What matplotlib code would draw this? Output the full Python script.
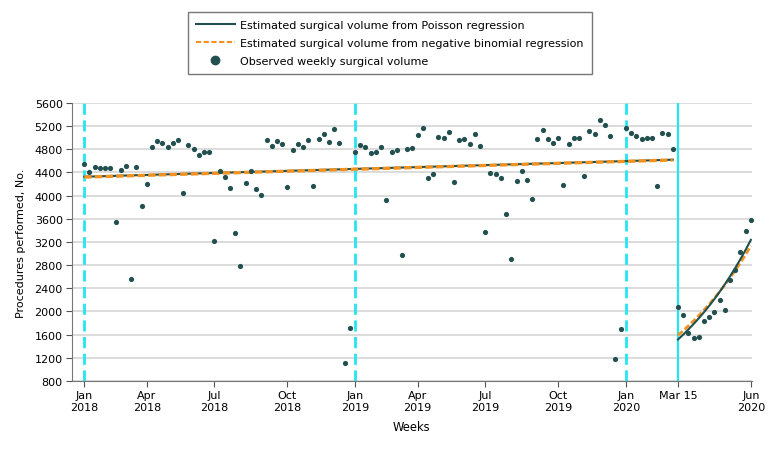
import numpy as np
import matplotlib.pyplot as plt
from matplotlib.lines import Line2D

plt.rcParams['font.family'] = ['DejaVu Sans']

# observed weekly surgical volume, week 0 = first week of Jan 2018
observed = [
    4540, 4401, 4488, 4482, 4482, 4470, 3548, 4441, 4511, 2568,
    4488, 3825, 4205, 4833, 4943, 4908, 4845, 4903, 4966, 4044,
    4868, 4810, 4701, 4747, 4747, 3208, 4424, 4315, 4130, 3346,
    2793, 4222, 4418, 4107, 4015, 4954, 4851, 4949, 4885, 4142,
    4793, 4891, 4845, 4954, 4171, 4972, 5064, 4926, 5145, 4908,
    1110, 1709, 4747, 4874, 4845, 4741, 4758, 4845, 3928, 4747,
    4782, 2983, 4799, 4822, 5047, 5162, 4297, 4372, 5006, 4995,
    5099, 4234, 4954, 4972, 4891, 5064, 4851, 3364, 4390, 4366,
    4309, 3686, 2908, 4251, 4430, 4263, 3946, 4972, 5139, 4972,
    4903, 4989, 4176, 4891, 4995, 4989, 4332, 5122, 5058, 5300,
    5220, 5024, 1185, 1703, 5162, 5081, 5024, 4983, 4989, 4989,
    4171, 5075, 5070, 4805, 2084, 1940, 1634, 1542, 1559, 1836,
    1900, 1986, 2193, 2032, 2539, 2718, 3029, 3387, 3571,
]
weeks = np.arange(len(observed))

# fitted values
pre_weeks = [0, 113]
pre_poisson = [4326, 4620]
pre_negbin = [4320, 4615]
post_weeks = list(range(114, 129))
post_poisson = [1515, 1599, 1689, 1783, 1882, 1987, 2098, 2215,
                2338, 2468, 2606, 2751, 2904, 3066, 3237]
post_negbin = [1589, 1668, 1751, 1838, 1929, 2025, 2125, 2231,
               2342, 2458, 2580, 2709, 2843, 2985, 3133]

tick_weeks = [0, 12, 25, 39, 52, 64, 77, 91, 104, 114, 128]
tick_labels = ['Jan\n2018', 'Apr\n2018', 'Jul\n2018', 'Oct\n2018',
               'Jan\n2019', 'Apr\n2019', 'Jul\n2019', 'Oct\n2019',
               'Jan\n2020', 'Mar 15', 'Jun\n2020']
year_lines = [0, 52, 104]
covid_line = 114

teal = '#22504e'
orange = '#f39220'
cyan = '#22e6f2'

fig = plt.figure(figsize=(7.8, 4.52), dpi=100)
ax = fig.add_axes([0.092, 0.155, 0.872, 0.615])

for y in np.arange(800, 5601, 400):
    ax.axhline(y, color='#dcdcdc', lw=1.4, zorder=0)

for w in year_lines:
    ax.axvline(w, color=cyan, lw=2, ls=(0, (4, 2)), zorder=1)
ax.axvline(covid_line, color=cyan, lw=1.6, zorder=1)

ax.plot(pre_weeks, pre_poisson, color=teal, lw=1.5, zorder=3)
ax.plot(pre_weeks, pre_negbin, color=orange, lw=2.4, ls=(0, (2.2, 1)), zorder=4)
ax.plot(post_weeks, post_negbin, color=orange, lw=2.0, ls=(0, (2.2, 1)), zorder=3)
ax.plot(post_weeks, post_poisson, color=teal, lw=1.5, zorder=4)

ax.scatter(weeks, observed, s=14, color=teal, zorder=5, clip_on=False, linewidths=0)

ax.set_xlim(-2.4, 128.2)
ax.set_ylim(800, 5600)
ax.set_yticks(np.arange(800, 5601, 400))
ax.set_xticks(tick_weeks)
ax.set_xticklabels(tick_labels)
ax.tick_params(labelsize=8, color='#555555', length=4, pad=2.5)
for s in ['top', 'right']:
    ax.spines[s].set_visible(False)
for s in ['left', 'bottom']:
    ax.spines[s].set_color('#777777')
ax.set_xlabel('Weeks', fontsize=8.3, labelpad=6)
ax.set_ylabel('Procedures performed, No.', fontsize=8, labelpad=6)

handles = [
    Line2D([], [], color=teal, lw=1.5),
    Line2D([], [], color=orange, lw=1.5, ls=(0, (2.5, 1.2))),
    Line2D([], [], color=teal, marker='o', ls='none', markersize=6),
]
labels = ['Estimated surgical volume from Poisson regression',
          'Estimated surgical volume from negative binomial regression',
          'Observed weekly surgical volume']
leg = fig.legend(handles, labels, loc='upper center', bbox_to_anchor=(0.4994, 0.972),
                 fontsize=8, frameon=True, fancybox=False, handlelength=3.5,
                 borderpad=0.75, labelspacing=0.7, handletextpad=0.45,
                 borderaxespad=0)
leg.get_frame().set_edgecolor('#555555')
leg.get_frame().set_linewidth(1.0)

fig.savefig('out.png', dpi=100)
